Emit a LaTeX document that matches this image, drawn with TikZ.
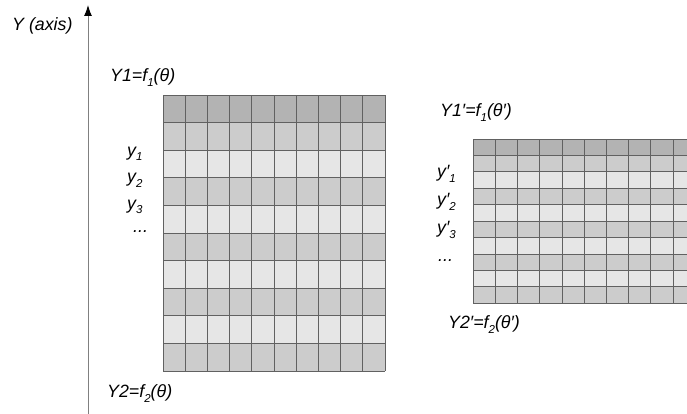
\documentclass[tikz,border=0pt]{standalone}
\usepackage{fontspec}
\setmainfont{Liberation Sans}
\usetikzlibrary{arrows.meta}
\definecolor{rowdark}{HTML}{B3B3B3}
\definecolor{rowmid}{HTML}{CCCCCC}
\definecolor{rowlight}{HTML}{E6E6E6}
\newcommand{\lowsub}[1]{\raisebox{-4.5pt}{\fontsize{11.5}{11.5}\selectfont #1}}

\begin{document}
\begin{tikzpicture}[x=1pt,y=1pt,>={Latex[length=11pt,width=8pt,black]},
  lbl/.style={anchor=base west,inner sep=0pt,font=\fontsize{17.8}{20}\selectfont\itshape},
  gridline/.style={draw=black!62,line width=0.9pt}]
\useasboundingbox (0,0) rectangle (687,414);
\clip (0,0) rectangle (687,414);

% Y axis
\coordinate (ybot) at (88,0);
\coordinate (ytop) at (88,409);
\draw[->,black!50,line width=1pt] (ybot) -- (ytop);
\node[lbl] (yaxis) at (12,383) {Y (axis)};

% left block
\foreach \r/\rowcol in {0/rowdark,1/rowmid,2/rowlight,3/rowmid,4/rowlight,5/rowmid,6/rowlight,7/rowmid,8/rowlight,9/rowmid}
  \fill[\rowcol] (163,319-27.6*\r) rectangle ++(222,-27.6);
\foreach \k in {0,...,10}
  \draw[gridline] (163+22.2*\k,43) -- ++(0,276);
\foreach \r in {0,...,10}
  \draw[gridline] (163,43+27.6*\r) -- ++(222,0);

\node[lbl] (top1) at (110,332) {Y1=f\lowsub{1}(θ)};
\node[lbl] (bot1) at (107,16) {Y2=f\lowsub{2}(θ)};
\node[lbl] (ya) at (127,257.5) {y\lowsub{1}};
\node[lbl] (yb) at (127,231) {y\lowsub{2}};
\node[lbl] (yc) at (127,204.5) {y\lowsub{3}};
\node[lbl] (ydots) at (133,181) {...};

% right block
\foreach \r/\rowcol in {0/rowdark,1/rowmid,2/rowlight,3/rowmid,4/rowlight,5/rowmid,6/rowlight,7/rowmid,8/rowlight,9/rowmid}
  \fill[\rowcol] (473.3,275-16.43*\r) rectangle ++(222,-16.43);
\foreach \k in {0,...,10}
  \draw[gridline] (473.3+22.2*\k,110.7) -- ++(0,164.3);
\foreach \r in {0,...,10}
  \draw[gridline] (473.3,110.7+16.43*\r) -- ++(222,0);

\node[lbl] (top2) at (440,297) {Y1′=f\lowsub{1}(θ′)};
\node[lbl] (bot2) at (448,85) {Y2′=f\lowsub{2}(θ′)};
\node[lbl] (ypa) at (437,236) {y′\lowsub{1}};
\node[lbl] (ypb) at (437,208) {y′\lowsub{2}};
\node[lbl] (ypc) at (437,180) {y′\lowsub{3}};
\node[lbl] (ypdots) at (438,152) {...};
\end{tikzpicture}
\end{document}
